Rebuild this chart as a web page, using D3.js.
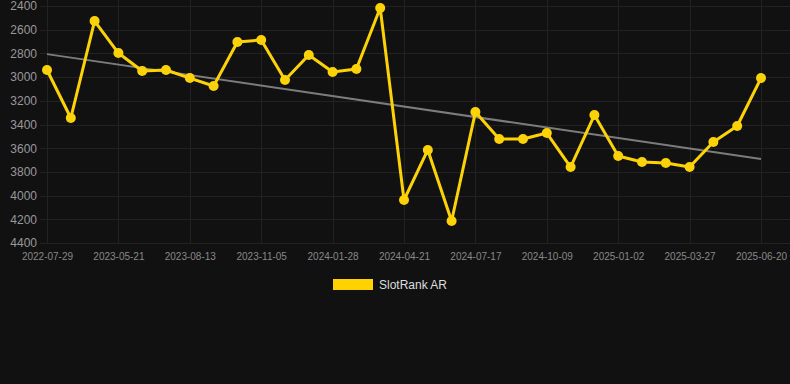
<!DOCTYPE html>
<html>
<head>
<meta charset="utf-8">
<script src="https://cdn.jsdelivr.net/npm/d3@7"></script>
<style>
  html, body { margin: 0; padding: 0; background: #111111; }
  #chart { width: 790px; height: 384px; }
  text { font-family: "Helvetica Neue", Arial, "Liberation Sans", sans-serif; }
</style>
</head>
<body>
<div id="chart"></div>
<script>
// ranking dates (every point), only every third date gets a label
var dates = [
    '2022-07-29', '2022-10-20', '2023-02-03', '2023-05-21', '2023-06-18', '2023-07-16',
    '2023-08-13', '2023-09-10', '2023-10-08', '2023-11-05', '2023-12-03', '2023-12-31',
    '2024-01-28', '2024-02-25', '2024-03-24', '2024-04-21', '2024-05-19', '2024-06-19',
    '2024-07-17', '2024-08-14', '2024-09-11', '2024-10-09', '2024-11-06', '2024-12-04',
    '2025-01-02', '2025-01-30', '2025-02-27', '2025-03-27', '2025-04-24', '2025-05-22',
    '2025-06-20'
];
var ranks = [
    2940, 3345, 2527, 2797, 2949, 2940,
    3008, 3075, 2704, 2687, 3024, 2813,
    2957, 2932, 2417, 4037, 3615, 4214,
    3295, 3522, 3522, 3472, 3759, 3320,
    3666, 3716, 3725, 3759, 3548, 3413,
    3008
];
var yTicks = [2400, 2600, 2800, 3000, 3200, 3400, 3600, 3800, 4000, 4200, 4400];
var seriesName = 'SlotRank AR';

var width = 790, height = 384;
var plotLeft = 40, plotRight = 790, plotTop = 6, plotBottom = 243;

var svg = d3.select('#chart')
    .append('svg')
    .attr('width', width)
    .attr('height', height);

var xScale = d3.scalePoint().domain(dates).range([47, 761]);
var yScale = d3.scaleLinear().domain([2400, 4400]).range([plotTop, plotBottom]);

var labelDates = dates.filter(function(d, i) { return i % 3 === 0; });

// grid
var grid = svg.append('g');
grid.selectAll('.hline')
    .data(yTicks)
    .enter()
    .append('line')
    .attr('x1', plotLeft)
    .attr('x2', plotRight)
    .attr('y1', function(d) { return Math.round(yScale(d)) + 0.5; })
    .attr('y2', function(d) { return Math.round(yScale(d)) + 0.5; })
    .attr('stroke', '#222222')
    .attr('stroke-width', 1);

grid.selectAll('.vline')
    .data(labelDates)
    .enter()
    .append('line')
    .attr('x1', function(d) { return Math.round(xScale(d)) + 0.5; })
    .attr('x2', function(d) { return Math.round(xScale(d)) + 0.5; })
    .attr('y1', 0)
    .attr('y2', plotBottom + 1)
    .attr('stroke', '#222222')
    .attr('stroke-width', 1);

// axes (labels only)
var yAxis = svg.append('g')
    .attr('transform', 'translate(' + (plotLeft - 3) + ',0)')
    .call(d3.axisLeft(yScale).tickValues(yTicks).tickSize(0).tickFormat(d3.format('d')));
yAxis.select('.domain').remove();
yAxis.selectAll('text')
    .attr('fill', '#999999')
    .attr('font-size', '12px')
    .attr('x', 0);

var xAxis = svg.append('g')
    .attr('transform', 'translate(0,' + (plotBottom + 10) + ')')
    .call(d3.axisBottom(xScale).tickValues(labelDates).tickSize(0));
xAxis.select('.domain').remove();
xAxis.selectAll('text')
    .attr('fill', '#888888')
    .attr('font-size', '10px')
    .attr('dy', '0.71em')
    .attr('y', 0);

// trend line: least squares over the series
var n = ranks.length;
var mx = d3.mean(ranks, function(d, i) { return i; });
var my = d3.mean(ranks);
var sxy = d3.sum(ranks, function(d, i) { return (i - mx) * (d - my); });
var sxx = d3.sum(ranks, function(d, i) { return (i - mx) * (i - mx); });
var slope = sxy / sxx;
var intercept = my - slope * mx;

svg.append('line')
    .attr('x1', xScale(dates[0]))
    .attr('y1', yScale(intercept))
    .attr('x2', xScale(dates[n - 1]))
    .attr('y2', yScale(intercept + slope * (n - 1)))
    .attr('stroke', '#888888')
    .attr('stroke-width', 2)
    .attr('opacity', 0.9);

// series line
var line = d3.line()
    .x(function(d, i) { return xScale(dates[i]); })
    .y(function(d) { return yScale(d); });

svg.append('path')
    .datum(ranks)
    .attr('d', line)
    .attr('fill', 'none')
    .attr('stroke', '#FFD200')
    .attr('stroke-width', 3)
    .attr('stroke-linejoin', 'round');

svg.selectAll('circle')
    .data(ranks)
    .enter()
    .append('circle')
    .attr('cx', function(d, i) { return xScale(dates[i]); })
    .attr('cy', function(d) { return yScale(d); })
    .attr('r', 5)
    .attr('fill', '#FFD200');

// legend
var legend = svg.append('g').attr('transform', 'translate(333,279)');
legend.append('rect')
    .attr('width', 40)
    .attr('height', 11)
    .attr('fill', '#FFD200');
legend.append('text')
    .attr('x', 46)
    .attr('y', 6)
    .attr('dy', '0.35em')
    .attr('fill', '#dddddd')
    .attr('font-size', '12px')
    .text(seriesName);
</script>
</body>
</html>
